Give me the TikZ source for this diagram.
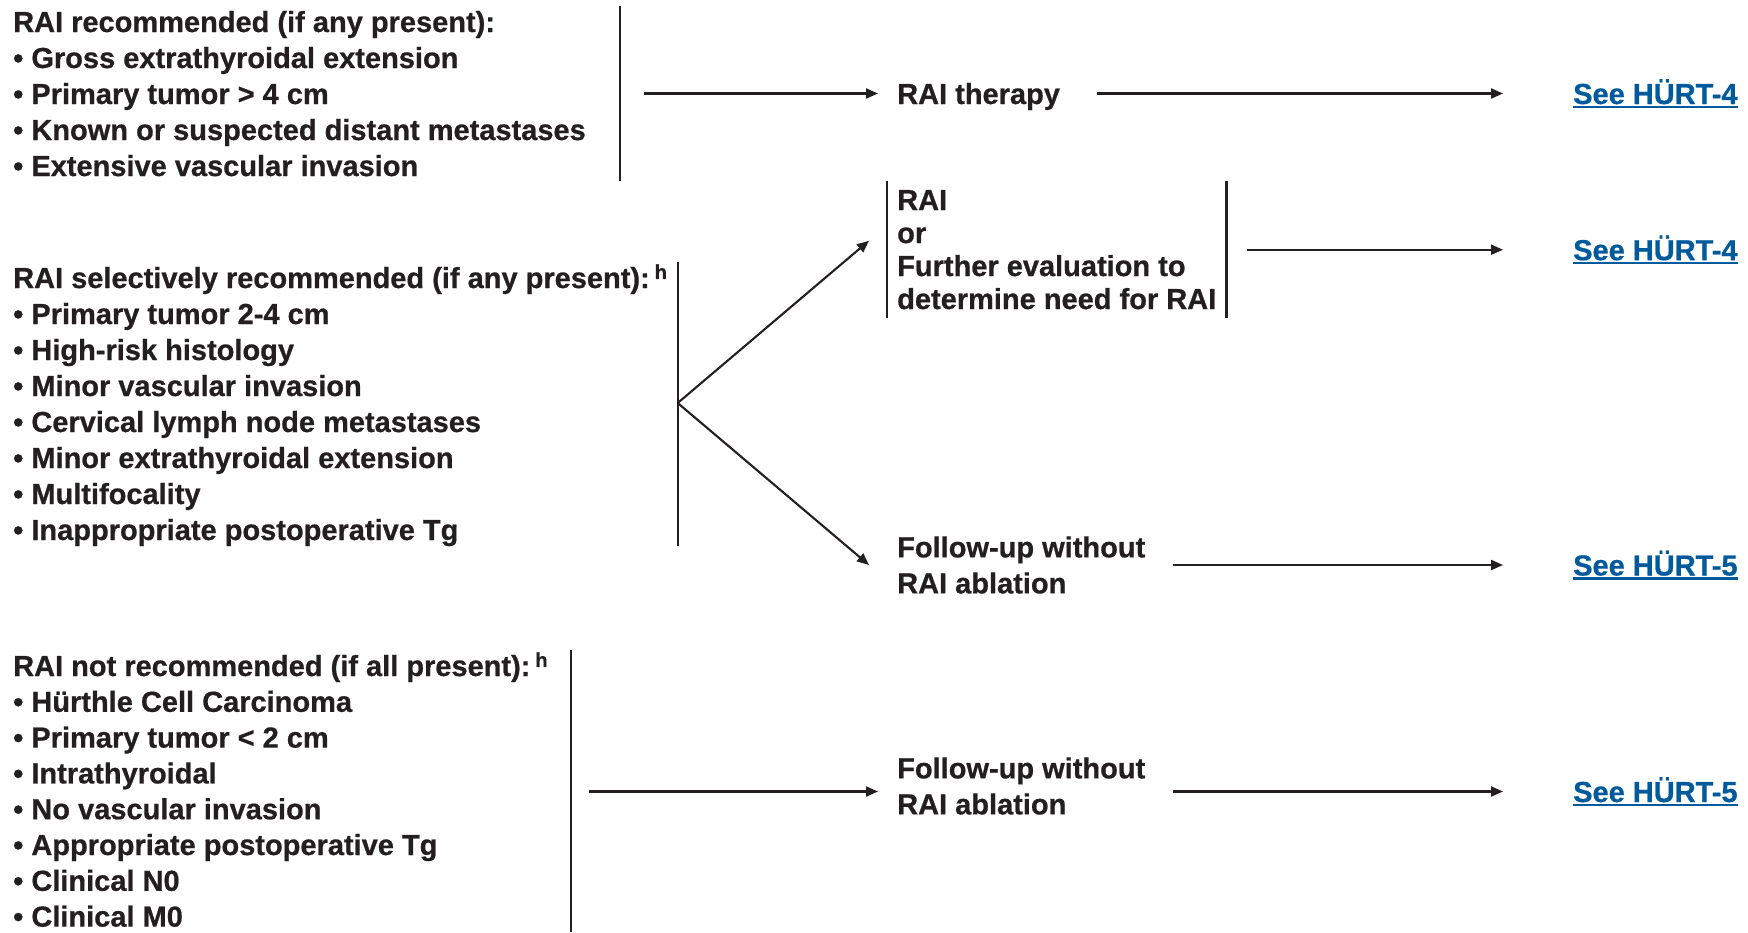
\documentclass[tikz,border=0pt]{standalone}
\usepackage{fontspec}
\setmainfont{Liberation Sans}[BoldFeatures={FakeBold=0.7}]
\usetikzlibrary{arrows.meta}
\definecolor{ink}{RGB}{35,31,32}
\definecolor{linkblue}{RGB}{0,90,156}
\newcommand\seeref[1]{\setbox0\hbox{#1}\rlap{\rule[-4pt]{\wd0}{2.2pt}}\box0}
\tikzset{
  lbl/.style={font=\fontsize{29}{36}\selectfont\bfseries, text=ink, inner sep=0pt, anchor=west},
  row/.style={lbl, text height=21pt, text depth=0pt},
  link/.style={text=linkblue},
  bar/.style={draw=ink, line width=2.2pt},
  arr/.style={draw=ink, line width=2.1pt, -{Triangle[length=12pt,width=10pt]}},
}
\begin{document}
\begin{tikzpicture}[x=1pt,y=-1pt]
\useasboundingbox (0,0) rectangle (1748,932);
\def\lx{13} \def\dy{36}
% recommended
\node[row] (rec) at (\lx,21.5) {RAI recommended (if any present):};
\foreach \t [count=\i] in {Gross extrathyroidal extension,Primary tumor > 4 cm,Known or suspected distant metastases,Extensive vascular invasion}
  \node[row] (rec\i) at (\lx,21.5+\dy*\i) {•\ \t};
\draw[bar] (620,6) -- (620,181);
\coordinate (b1) at (644,93.5);
\node[row] (ther) at (897,93.5) {RAI therapy};
\node[row,link] (see1) at (1573,93.5) {\seeref{See HÜRT-4}};
\draw[arr,shorten >=19pt] (b1) -- (ther);
\draw[arr,shorten <=37pt,shorten >=70pt] (ther) -- (see1);
% selectively recommended
\node[row] (sel) at (\lx,277.5) {RAI selectively recommended (if any present):\,\textsuperscript{h}};
\foreach \t [count=\i] in {Primary tumor 2-4 cm,High-risk histology,Minor vascular invasion,Cervical lymph node metastases,Minor extrathyroidal extension,Multifocality,Inappropriate postoperative Tg}
  \node[row] (sel\i) at (\lx,277.5+\dy*\i) {•\ \t};
\draw[bar] (677.7,262) -- (677.7,546);
\coordinate (br) at (677.7,403);
\node[lbl,align=left,font=\fontsize{29}{33}\selectfont\bfseries,inner xsep=10pt,inner ysep=8.5pt] (furth) at (887,249.7) {RAI\\or\\Further evaluation to\\determine need for RAI};
\draw[bar] (furth.north west) -- (furth.south west) (furth.north east) -- (furth.south east);
\node[lbl,align=left] (fup1) at (897,565) {Follow-up without\\RAI ablation};
\node[row,link] (see2) at (1573,249.7) {\seeref{See HÜRT-4}};
\node[row,link] (see3) at (1573,565) {\seeref{See HÜRT-5}};
\draw[arr] (br) -- ([xshift=-18pt,yshift=9pt]furth.west);
\draw[arr] (br) -- ([xshift=-28pt]fup1.west);
\draw[arr,shorten <=21pt,shorten >=70pt] (furth) -- (see2);
\draw[arr,shorten <=28pt,shorten >=70pt] (fup1) -- (see3);
% not recommended
\node[row] (notrec) at (\lx,665.5) {RAI not recommended (if all present):\,\textsuperscript{h}};
\foreach \t [count=\i] in {Hürthle Cell Carcinoma,Primary tumor < 2 cm,Intrathyroidal,No vascular invasion,Appropriate postoperative Tg,Clinical N0,Clinical M0}
  \node[row] (notrec\i) at (\lx,665.5+35.8*\i) {•\ \t};
\draw[bar] (570.8,650) -- (570.8,932);
\coordinate (b3) at (588.6,791.5);
\node[lbl,align=left] (fup2) at (897,786) {Follow-up without\\RAI ablation};
\node[row,link] (see4) at (1573,791.5) {\seeref{See HÜRT-5}};
\draw[arr,shorten >=19pt] (b3) -- (fup2.west |- b3);
\draw[arr,shorten <=28pt,shorten >=70pt] (fup2.east |- b3) -- (see4);
\end{tikzpicture}
\end{document}
